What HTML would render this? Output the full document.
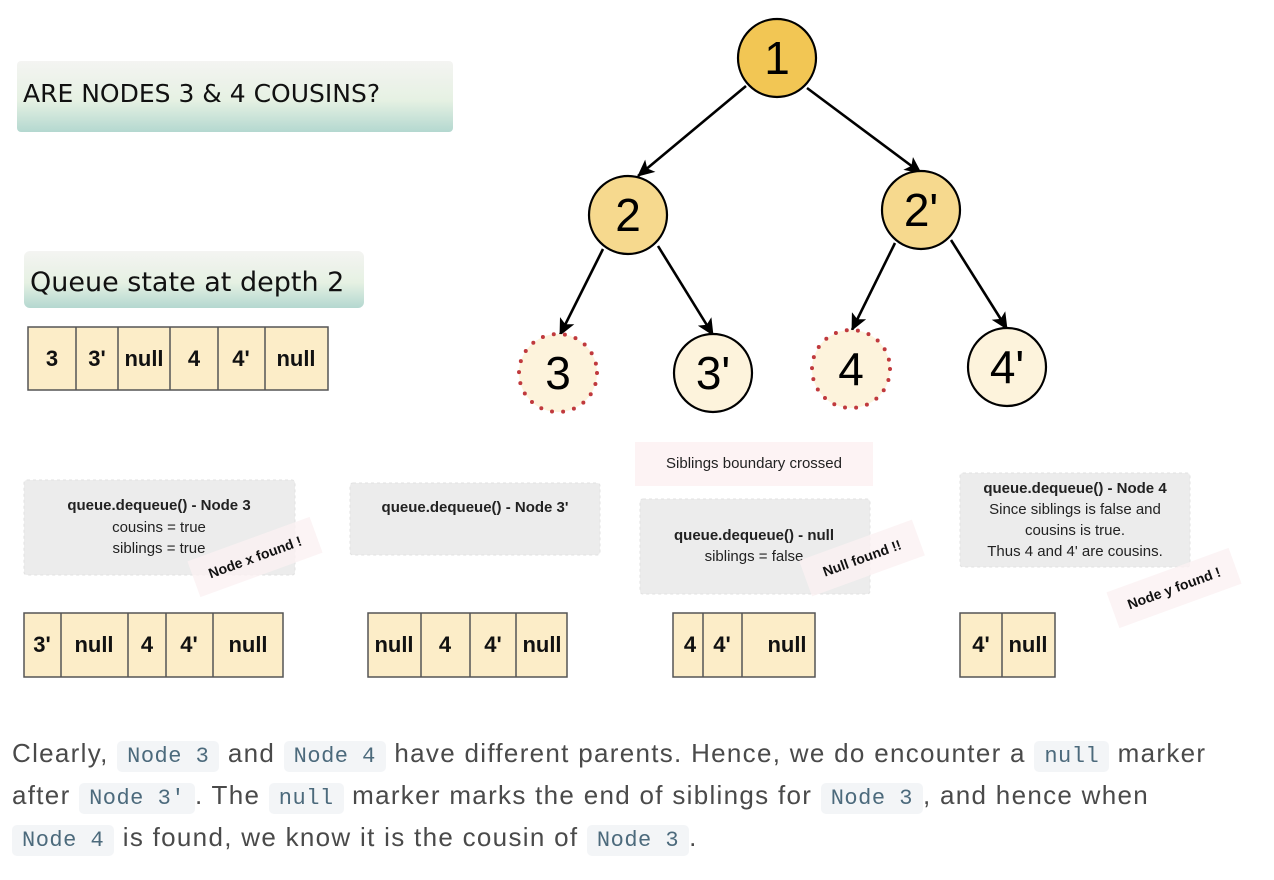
<!DOCTYPE html>
<html><head><meta charset="utf-8">
<style>
body{margin:0;width:1274px;height:880px;background:#fff;position:relative;overflow:hidden;font-family:"Liberation Sans",sans-serif}
.p{position:absolute;left:12px;font-size:26px;color:#4a4a4a;white-space:nowrap;line-height:30px;letter-spacing:1.3px}
code{font-family:"Liberation Mono",monospace;font-size:22px;color:#4c6a7c;background:#f3f5f7;border-radius:5px;padding:3px 10px;letter-spacing:0.5px}
</style></head><body>
<svg width="1274" height="720" style="position:absolute;left:0;top:0" font-family="Liberation Sans, sans-serif">
<defs>
<linearGradient id="g" x1="0" y1="0" x2="0" y2="1"><stop offset="0" stop-color="#f4f4f2"/><stop offset="0.55" stop-color="#e6f1e3"/><stop offset="1" stop-color="#b4d8d0"/></linearGradient>
<marker id="a" markerWidth="18" markerHeight="16" refX="16" refY="8" orient="auto" markerUnits="userSpaceOnUse"><path d="M0,0 L17,8 L0,16 L4,8 Z" fill="#000"/></marker>
</defs>
<rect x="17" y="61" width="436" height="71" rx="4" fill="url(#g)"/>
<text x="23" y="102" font-family="DejaVu Sans, sans-serif" font-size="25" fill="#111">ARE NODES 3 &amp; 4 COUSINS?</text>
<rect x="24" y="251" width="340" height="57" rx="6" fill="url(#g)"/>
<text x="30" y="291" font-family="DejaVu Sans, sans-serif" font-size="27" fill="#111">Queue state at depth 2</text>

<g stroke="#000" stroke-width="2.6" marker-end="url(#a)">
<line x1="746" y1="86" x2="638" y2="176"/>
<line x1="807" y1="88" x2="921" y2="173"/>
<line x1="603" y1="249" x2="560" y2="335"/>
<line x1="658" y1="246" x2="713" y2="335"/>
<line x1="895" y1="243" x2="852" y2="330"/>
<line x1="951" y1="240" x2="1007" y2="329"/>
</g>
<g stroke="#000" stroke-width="2.2">
<circle cx="777" cy="58" r="39" fill="#f2c654"/>
<circle cx="628" cy="215" r="39" fill="#f6d98e"/>
<circle cx="921" cy="210" r="39" fill="#f6d98e"/>
<circle cx="713" cy="373" r="39" fill="#fdf3dc"/>
<circle cx="1007" cy="367" r="39" fill="#fdf3dc"/>
</g>
<circle cx="558" cy="373" r="39" fill="#fdf3dc" stroke="#c0393d" stroke-width="4" stroke-dasharray="0 11.2" stroke-linecap="round"/>
<circle cx="851" cy="369" r="39" fill="#fdf3dc" stroke="#c0393d" stroke-width="4" stroke-dasharray="0 11.2" stroke-linecap="round"/>
<g font-size="46" text-anchor="middle" fill="#000">
<text x="777" y="74">1</text><text x="628" y="231">2</text><text x="921" y="226">2'</text>
<text x="558" y="389">3</text><text x="713" y="389">3'</text><text x="851" y="385">4</text><text x="1007" y="383">4'</text>
</g>

<g stroke="#555" stroke-width="1.5" fill="#fcedc8">
<rect x="28" y="327" width="300" height="63"/>
<rect x="24" y="613" width="259" height="64"/>
<rect x="368" y="613" width="199" height="64"/>
<rect x="673" y="613" width="142" height="64"/>
<rect x="960" y="613" width="95" height="64"/>
</g>
<g stroke="#555" stroke-width="1.5">
<line x1="76" y1="327" x2="76" y2="390"/><line x1="118" y1="327" x2="118" y2="390"/><line x1="170" y1="327" x2="170" y2="390"/><line x1="218" y1="327" x2="218" y2="390"/><line x1="265" y1="327" x2="265" y2="390"/>
<line x1="61" y1="613" x2="61" y2="677"/><line x1="128" y1="613" x2="128" y2="677"/><line x1="166" y1="613" x2="166" y2="677"/><line x1="213" y1="613" x2="213" y2="677"/>
<line x1="421" y1="613" x2="421" y2="677"/><line x1="470" y1="613" x2="470" y2="677"/><line x1="516" y1="613" x2="516" y2="677"/>
<line x1="703" y1="613" x2="703" y2="677"/><line x1="742" y1="613" x2="742" y2="677"/>
<line x1="1002" y1="613" x2="1002" y2="677"/>
</g>
<g font-size="22" font-weight="bold" text-anchor="middle" fill="#111">
<text x="52" y="366">3</text><text x="97" y="366">3'</text><text x="144" y="366">null</text><text x="194" y="366">4</text><text x="241" y="366">4'</text><text x="296" y="366">null</text>
<text x="42" y="652">3'</text><text x="94" y="652">null</text><text x="147" y="652">4</text><text x="189" y="652">4'</text><text x="248" y="652">null</text>
<text x="394" y="652">null</text><text x="445" y="652">4</text><text x="493" y="652">4'</text><text x="542" y="652">null</text>
<text x="690" y="652">4</text><text x="722" y="652">4'</text><text x="787" y="652">null</text>
<text x="981" y="652">4'</text><text x="1028" y="652">null</text>
</g>

<g fill="#ececec" stroke="#e2e2e2" stroke-dasharray="3 3">
<rect x="24" y="480" width="271" height="95" rx="3"/>
<rect x="350" y="483" width="250" height="72" rx="3"/>
<rect x="640" y="499" width="230" height="95" rx="3"/>
<rect x="960" y="473" width="230" height="94" rx="3"/>
</g>
<rect x="635" y="442" width="238" height="44" fill="#fdf3f4"/>
<text x="754" y="468" font-size="15" text-anchor="middle" fill="#222">Siblings boundary crossed</text>
<g font-size="15" text-anchor="middle" fill="#222">
<text x="159" y="510" font-weight="bold">queue.dequeue() - Node 3</text>
<text x="159" y="532">cousins = true</text>
<text x="159" y="553">siblings = true</text>
<text x="475" y="512" font-weight="bold">queue.dequeue() - Node 3'</text>
<text x="754" y="540" font-weight="bold">queue.dequeue() - null</text>
<text x="754" y="561">siblings = false</text>
<text x="1075" y="493" font-weight="bold">queue.dequeue() - Node 4</text>
<text x="1075" y="514">Since siblings is false and</text>
<text x="1075" y="535">cousins is true.</text>
<text x="1075" y="556">Thus 4 and 4' are cousins.</text>
</g>
<g font-size="14" font-weight="bold" text-anchor="middle" fill="#111">
<g transform="translate(255,557) rotate(-20)"><rect x="-65" y="-19" width="130" height="38" fill="#fbf1f3" opacity="0.8"/><text y="5">Node x found !</text></g>
<g transform="translate(862,558) rotate(-20)"><rect x="-60" y="-19" width="120" height="38" fill="#fbf1f3" opacity="0.8"/><text y="5">Null found !!</text></g>
<g transform="translate(1174,588) rotate(-20)"><rect x="-65" y="-19" width="130" height="38" fill="#fbf1f3" opacity="0.8"/><text y="5">Node y found !</text></g>
</g>
</svg>
<div class="p" style="top:738px">Clearly, <code>Node 3</code> and <code>Node 4</code> have different parents. Hence, we do encounter a <code>null</code> marker</div>
<div class="p" style="top:780px">after <code>Node 3'</code>. The <code>null</code> marker marks the end of siblings for <code>Node 3</code>, and hence when</div>
<div class="p" style="top:822px"><code>Node 4</code> is found, we know it is the cousin of <code>Node 3</code>.</div>
</body></html>
